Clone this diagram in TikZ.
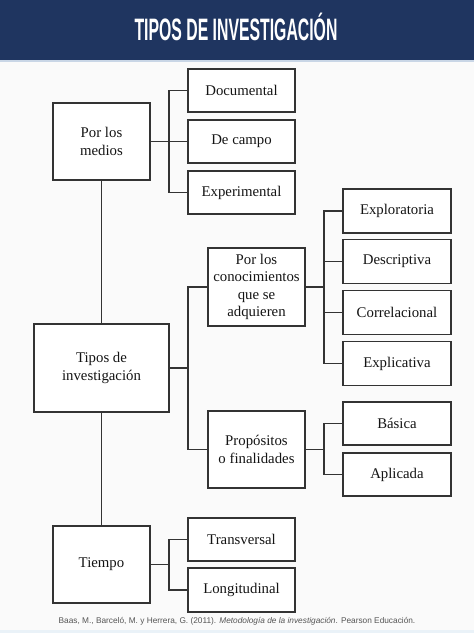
\documentclass[tikz,border=0pt]{standalone}
\usepackage{fontspec}
\setmainfont{Liberation Serif}
\newfontfamily\titlefont{Liberation Sans}
\newfontfamily\citefont{Liberation Sans}
\definecolor{navy}{HTML}{1F3560}
\definecolor{boxline}{HTML}{333333}
\definecolor{citegray}{HTML}{555555}
\definecolor{footband}{HTML}{EAF2F8}
\definecolor{thinline}{HTML}{C9D6E6}
\begin{document}
\begin{tikzpicture}[x=1pt,y=-1pt,
  box/.style={draw=boxline,line width=1.3pt,fill=white,inner sep=0pt,align=center,
    font=\fontsize{14.8}{17.5}\selectfont,text=black!92},
  wide/.style={box,minimum width=107pt,minimum height=43pt},
  main/.style={box,minimum width=97pt,minimum height=77pt},
  conn/.style={draw=boxline,line width=1.3pt}]
\useasboundingbox (0,0) rectangle (474,633);
\fill[white!98!black] (0,0) rectangle (474,633);
\fill[navy] (0,0) rectangle (474,60);
\fill[thinline] (0,60) rectangle (474,61.5);
\fill[footband] (0,630) rectangle (474,633);
\node[text=white,font=\titlefont\bfseries\fontsize{31}{32}\selectfont] (title) at (236,26.5)
  {\scalebox{0.51}[1]{TIPOS DE INVESTIGACIÓN}};

% main column
\node[main] (medios) at (101.5,141.5) {Por los\\medios};
\node[box,minimum width=135pt,minimum height=88pt] (tipos) at (101.5,368) {Tipos de\\investigación};
\node[main] (tiempo) at (101.5,564.5) {Tiempo};

% por los medios
\node[wide] (doc) at (241.5,90.5) {Documental};
\node[wide] (campo) at (241.5,141.5) {De campo};
\node[wide] (exper) at (241.5,192.5) {Experimental};

% second level
\node[main,minimum height=78pt] (conoc) at (256.5,287) {Por los\\conocimientos\\que se\\adquieren};
\node[main] (prop) at (256.5,449.5) {Propósitos\\o finalidades};

% third level
\node[wide,minimum width=108pt,minimum height=44pt] (explo) at (397,211) {Exploratoria};
\node[wide,minimum width=108pt,minimum height=44pt] (desc) at (397,261.5) {Descriptiva};
\node[wide,minimum width=108pt,minimum height=44pt] (corr) at (397,312.5) {Correlacional};
\node[wide,minimum width=108pt,minimum height=44pt] (explic) at (397,363.5) {Explicativa};
\node[wide,minimum width=108pt] (basica) at (397,423.5) {Básica};
\node[wide,minimum width=108pt] (aplic) at (397,474.5) {Aplicada};

% tiempo
\node[wide] (trans) at (241.5,539.5) {Transversal};
\node[wide,minimum height=44pt] (longi) at (241.5,590) {Longitudinal};

% connectors
\draw[conn] (medios.south) -- (tipos.north);
\draw[conn] (tipos.south) -- (tiempo.north);

\coordinate (b1) at (169,141.5);
\draw[conn] (medios.east) -- (b1);
\draw[conn] (doc.west) -| (b1) |- (exper.west);
\draw[conn] (campo.west) -- (b1);

\coordinate (b2) at (188,368);
\draw[conn] (tipos.east) -- (b2);
\draw[conn] (conoc.west) -| (b2) |- (prop.west);

\coordinate (b3) at (324,287);
\draw[conn] (conoc.east) -- (b3);
\draw[conn] (explo.west) -| (b3) |- (explic.west);
\draw[conn] (desc.west) -- (desc.west -| b3);
\draw[conn] (corr.west) -- (corr.west -| b3);

\coordinate (b4) at (324,449.5);
\draw[conn] (prop.east) -- (b4);
\draw[conn] (basica.west) -| (b4) |- (aplic.west);

\coordinate (b5) at (169,564.5);
\draw[conn] (tiempo.east) -- (b5);
\draw[conn] (trans.west) -| (b5) |- (longi.west);

\node[text=citegray,font=\citefont\fontsize{8.3}{10}\selectfont] (cite) at (237,621)
  {Baas, M., Barceló, M. y Herrera, G. (2011). \textit{Metodología de la investigación}. Pearson Educación.};
\end{tikzpicture}
\end{document}
